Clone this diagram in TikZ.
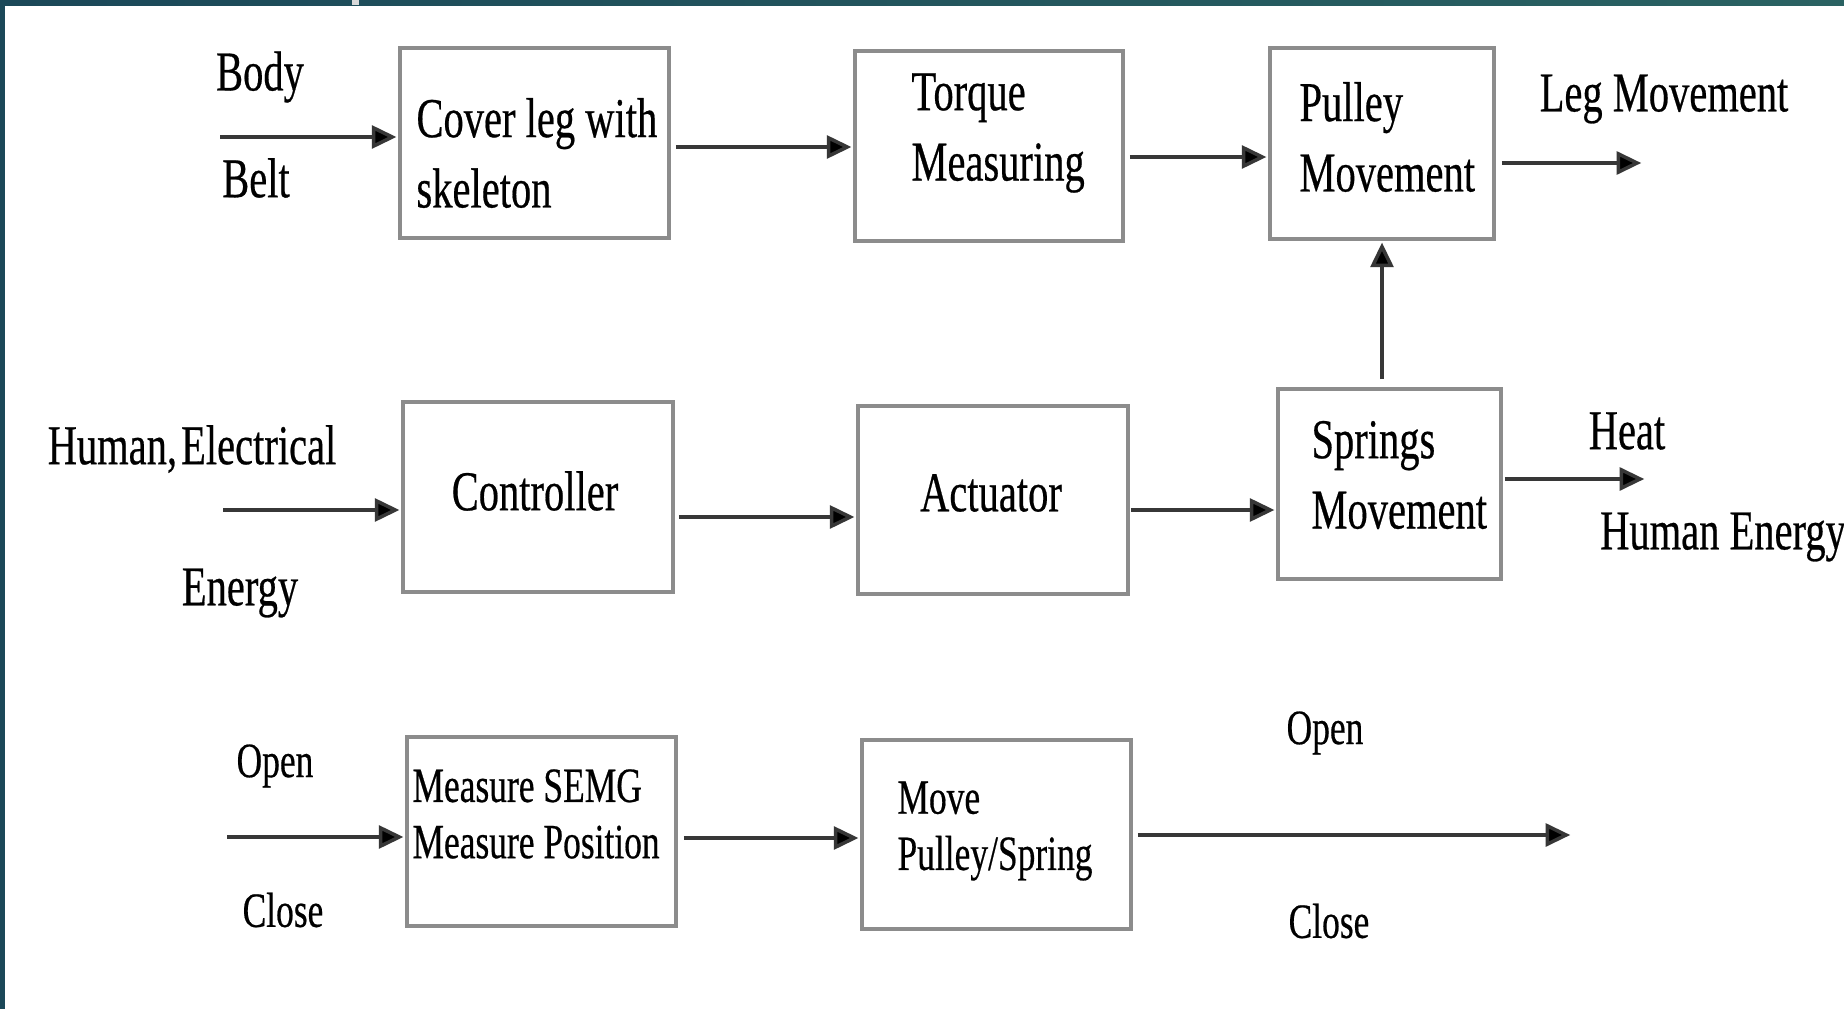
\documentclass[tikz,border=0pt]{standalone}
\usepackage{fontspec}
\setmainfont{Liberation Serif}[FakeBold=0.5]
\usetikzlibrary{arrows.meta,calc}
\definecolor{tealdark}{RGB}{27,72,88}
\definecolor{teallight}{RGB}{42,98,98}
\definecolor{boxgray}{RGB}{140,140,140}
\definecolor{linegray}{RGB}{55,55,55}
\begin{document}
\begin{tikzpicture}[x=0.01cm,y=-0.01cm,
  box/.style={draw=boxgray, line width=1pt, fill=white, inner sep=0pt,
    minimum width=2.69cm, minimum height=1.9cm},
  sq/.style={transform shape, xscale=0.72},
  bigtxt/.style={sq, font=\fontsize{16}{20}\selectfont, inner sep=0pt, align=left},
  smalltxt/.style={sq, font=\fontsize{14}{16}\selectfont, inner sep=0pt, align=left},
  arr/.style={draw=linegray, line width=1pt, -{Triangle[length=7pt,width=6.5pt,fill=black]}, shorten >=0.5pt}]
% background and frame
\fill[white] (0,0) rectangle (1844,1009);
\useasboundingbox (0,0) rectangle (1844,1009);
\shade[left color=tealdark, right color=teallight] (0,0) rectangle (1844,5);
\fill[tealdark] (0,0) rectangle (5,1009);
\fill[black!15] (352,0) rectangle (359,5);

% boxes
\node[box] (b1) at (534.5,143) {};
\node[box, minimum width=2.68cm] (b2) at (989,146) {};
\node[box, minimum width=2.24cm, minimum height=1.91cm] (b3) at (1382,143.5) {};
\node[box, minimum width=2.70cm] (b4) at (538,497) {};
\node[box, minimum width=2.70cm, minimum height=1.88cm] (b5) at (993,500) {};
\node[box, minimum width=2.23cm] (b6) at (1389.5,484) {};
\node[box, minimum height=1.89cm] (b7) at (541.5,831.5) {};
\node[box, minimum height=1.89cm] (b8) at (996.5,834.5) {};

% box texts
\node[bigtxt, anchor=west] (t1) at (416,153) {Cover leg with\\skeleton};
\node[bigtxt, anchor=west] (t2) at (911,133) {Torque\\Measuring};
\node[bigtxt, anchor=west] (t3) at (1299,137) {Pulley\\Movement};
\node[bigtxt] (t4) at (535,491) {Controller};
\node[bigtxt] (t5) at (991,493) {Actuator};
\node[bigtxt, anchor=west] (t6) at (1311,475) {Springs\\Movement};
\node[smalltxt, anchor=west] (t7) at (412,814) {Measure SEMG\\Measure Position};
\node[smalltxt, anchor=west] (t8) at (897,831) {Move\\Pulley/Spring};

% outside labels
\node[bigtxt] (lbody) at (260,77) {Body};
\node[bigtxt] (lbelt) at (256,178) {Belt};
\node[bigtxt] (lleg) at (1664,99) {Leg Movement};
\node[bigtxt] (lhum) at (192,449) {Human,\kern-0.15em{} Electrical};
\node[bigtxt] (lene) at (240,593) {Energy};
\node[bigtxt] (lheat) at (1627,431) {Heat};
\node[bigtxt] (lhe) at (1723,537) {Human Energy};
\node[smalltxt] (lopen1) at (275,766) {Open};
\node[smalltxt] (lclose1) at (283,910) {Close};
\node[smalltxt] (lopen2) at (1325,733) {Open};
\node[smalltxt] (lclose2) at (1329,921) {Close};

% free ends
\coordinate (in1) at (220,137);
\coordinate (in2) at (223,510);
\coordinate (in3) at (227,837);
\coordinate (out1) at (1643,163);
\coordinate (out2) at (1646,479);
\coordinate (out3) at (1572,835);

% connectors
\draw[arr] (in1) -- (b1.west |- in1);
\draw[arr] ([xshift=0.05cm]b1.east |- 0,147) -- (b2.west |- 0,147);
\draw[arr] ([xshift=0.05cm]b2.east |- 0,157) -- (b3.west |- 0,157);
\draw[arr] ([xshift=0.06cm]b3.east |- out1) -- (out1);

\draw[arr] (in2) -- (b4.west |- in2);
\draw[arr] ([xshift=0.04cm]b4.east |- 0,517) -- (b5.west |- 0,517);
\draw[arr] ([xshift=0.01cm]b5.east |- 0,510) -- (b6.west |- 0,510);
\draw[arr] ([xshift=0.02cm]b6.east |- out2) -- (out2);
\draw[arr] ([yshift=0.08cm]b6.north -| b3.south) -- (b3.south);

\draw[arr] (in3) -- (b7.west |- in3);
\draw[arr] ([xshift=0.06cm]b7.east |- 0,838) -- (b8.west |- 0,838);
\draw[arr] ([xshift=0.05cm]b8.east |- out3) -- (out3);
\end{tikzpicture}
\end{document}
